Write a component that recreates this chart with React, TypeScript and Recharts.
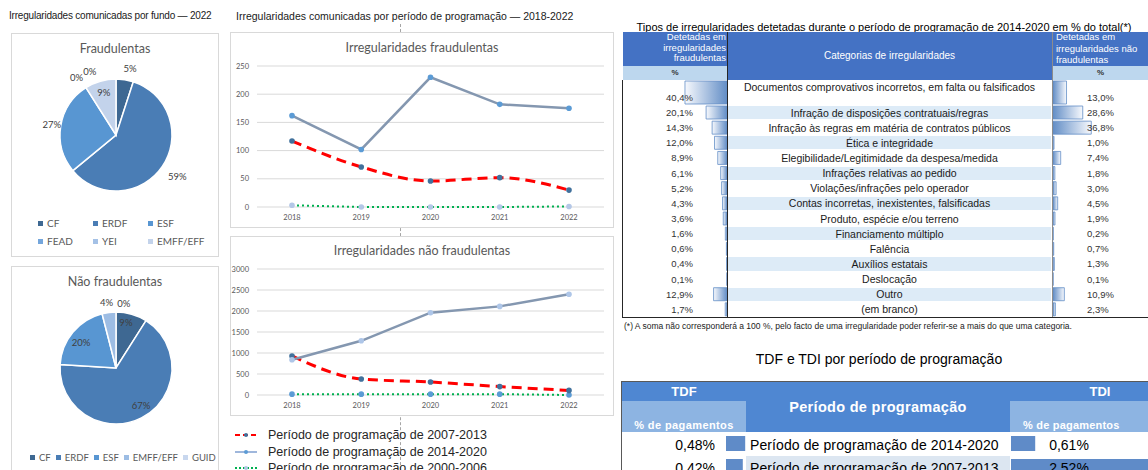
import React from 'react';
import { PieChart, Pie, Cell, LineChart, Line, XAxis, YAxis, CartesianGrid, BarChart, Bar } from 'recharts';

const ARIAL = '"Liberation Sans", Arial, sans-serif';
const CALIBRI = 'Lato, "Open Sans", sans-serif';

// --- pies: irregularidades por fundo (2022), %
const fraudFunds = ['CF', 'ERDF', 'ESF', 'FEAD', 'YEI', 'EMFF/EFF'];
const fraudFundShares = [5, 59, 27, 0, 0, 9];
const nonFraudFunds = ['CF', 'ERDF', 'ESF', 'EMFF/EFF', 'GUID'];
const nonFraudFundShares = [9, 67, 20, 4, 0];

// --- lines: irregularidades por período de programação
const years = ['2018', '2019', '2020', '2021', '2022'];
const fraud0713 = [117, 71, 46, 52, 30];
const fraud1420 = [162, 102, 230, 182, 175];
const fraud0006 = [3, 0, 0, 0, 1];
const nonFraud0713 = [930, 380, 310, 200, 110];
const nonFraud1420 = [840, 1290, 1960, 2110, 2400];
const nonFraud0006 = [20, 20, 20, 20, 0];
const fraudTicks = [0, 50, 100, 150, 200, 250];
const nonFraudTicks = [0, 500, 1000, 1500, 2000, 2500, 3000];
const periodNames = [
  'Período de programação de 2007-2013',
  'Período de programação de 2014-2020',
  'Período de programação de 2000-2006',
];

// --- tabela: tipos de irregularidades 2014-2020, % do total
const categories = [
  'Documentos comprovativos incorretos, em falta ou falsificados',
  'Infração de disposições contratuais/regras',
  'Infração às regras em matéria de contratos públicos',
  'Ética e integridade',
  'Elegibilidade/Legitimidade da despesa/medida',
  'Infrações relativas ao pedido',
  'Violações/infrações pelo operador',
  'Contas incorretas, inexistentes, falsificadas',
  'Produto, espécie e/ou terreno',
  'Financiamento múltiplo',
  'Falência',
  'Auxílios estatais',
  'Deslocação',
  'Outro',
  '(em branco)',
];
const fraudShares = [40.4, 20.1, 14.3, 12.0, 8.9, 6.1, 5.2, 4.3, 3.6, 1.6, 0.6, 0.4, 0.1, 12.9, 1.7];
const nonFraudShares = [13.0, 28.6, 36.8, 1.0, 7.4, 1.8, 3.0, 4.5, 1.9, 0.2, 0.7, 1.3, 0.1, 10.9, 2.3];

// --- TDF / TDI
const periods = ['Período de programação de 2014-2020', 'Período de programação de 2007-2013'];
const tdfValues = [0.48, 0.42];
const tdiValues = [0.61, 2.52];

const pct = (v: number, d = 1) => v.toFixed(d).replace('.', ',') + '%';

const pieColors1 = ['#3e6892', '#4a7db5', '#5896d2', '#74a6dc', '#a4c1e6', '#c3d3eb'];
const pieColors2 = ['#3e6892', '#4a7db5', '#5896d2', '#9dbde4', '#c8d7ee'];

const labelMaker = (radii: number[], nudges: number[]) => (p: any) => {
  const t = ((90 - p.midAngle + nudges[p.index]) * Math.PI) / 180;
  const x = p.cx + radii[p.index] * Math.sin(t);
  const y = p.cy - radii[p.index] * Math.cos(t);
  return (
    <text x={x} y={y} textAnchor="middle" dominantBaseline="central" fontSize={9.5} fontFamily={CALIBRI} fill="#404040">
      {Math.round(p.value)}%
    </text>
  );
};

function LegendItem({ color, name }: { color: string; name: string }) {
  return (
    <span style={{ display: 'inline-flex', alignItems: 'center', whiteSpace: 'nowrap' }}>
      <span style={{ width: 5, height: 5, background: color, marginRight: 4, display: 'inline-block' }} />
      {name}
    </span>
  );
}

function FundPie(props: {
  title: string; top: number; height: number; names: string[]; values: number[]; colors: string[];
  radii: number[]; nudges: number[]; legend: React.ReactNode;
}) {
  const data = props.names.map((n, i) => ({ name: n, value: props.values[i] }));
  return (
    <div style={{ position: 'absolute', left: 11, top: props.top, width: 208, height: props.height, border: '1px solid #d9d9d9', boxSizing: 'border-box', background: '#fff' }}>
      <div style={{ position: 'absolute', left: 0, width: 206, top: 7, textAlign: 'center', fontFamily: CALIBRI, fontSize: 12.5, color: '#595959' }}>{props.title}</div>
      <div style={{ position: 'absolute', left: 0, top: 0 }}>
        <PieChart width={206} height={200} margin={{ top: 0, right: 0, bottom: 0, left: 0 }}>
          <Pie
            data={data}
            dataKey="value"
            cx={104}
            cy={101}
            outerRadius={56}
            startAngle={90}
            endAngle={-270}
            stroke="#fff"
            strokeWidth={1.5}
            labelLine={false}
            label={labelMaker(props.radii, props.nudges)}
            isAnimationActive={false}
          >
            {data.map((d, i) => <Cell key={d.name} fill={props.colors[i]} />)}
          </Pie>
        </PieChart>
      </div>
      {props.legend}
    </div>
  );
}

function TrendChart(props: {
  title: string; top: number; height: number; marginTop: number; titleTop: number;
  a: number[]; b: number[]; c: number[]; ticks: number[]; dotB: string; dotC: string;
}) {
  const data = years.map((y, i) => ({ year: y, a: props.a[i], b: props.b[i], c: props.c[i] }));
  const tick = { fontSize: 7.5, fill: '#595959', fontFamily: CALIBRI };
  const top = props.ticks[props.ticks.length - 1];
  return (
    <div style={{ position: 'absolute', left: 230, top: props.top, width: 384, height: props.height, border: '1px solid #d9d9d9', boxSizing: 'border-box', background: '#fff' }}>
      <div style={{ position: 'absolute', left: 0, width: 382, top: props.titleTop, textAlign: 'center', fontFamily: CALIBRI, fontSize: 12.5, color: '#595959' }}>{props.title}</div>
      <div style={{ position: 'absolute', left: 0, top: 0 }}>
        <LineChart width={382} height={props.height - 2} data={data} margin={{ top: props.marginTop, right: 9, bottom: 0, left: 0 }}>
          <CartesianGrid vertical={false} stroke="#d9d9d9" />
          <XAxis dataKey="year" height={20} axisLine={false} tickLine={false} interval={0} padding={{ left: 35, right: 35 }} tick={tick} />
          <YAxis width={26} domain={[0, top]} ticks={props.ticks} interval={0} axisLine={false} tickLine={false} tick={tick} />
          <Line dataKey="c" type="linear" stroke="#00b050" strokeWidth={2} strokeDasharray="2 3" dot={{ r: 2.8, fill: props.dotC, stroke: 'none' }} isAnimationActive={false} />
          <Line dataKey="a" type="monotone" stroke="#ff0000" strokeWidth={3} strokeDasharray="10 6" dot={{ r: 2.8, fill: '#41719c', stroke: 'none' }} isAnimationActive={false} />
          <Line dataKey="b" type="linear" stroke="#8497b0" strokeWidth={2.5} dot={{ r: 2.8, fill: props.dotB, stroke: 'none' }} isAnimationActive={false} />
        </LineChart>
      </div>
    </div>
  );
}

function ShareBars(props: { values: number[]; left: number; top: number; height: number; reversed: boolean; id: string }) {
  const data = props.values.map((v, i) => ({ k: i, v }));
  return (
    <div style={{ position: 'absolute', left: props.left, top: props.top }}>
      <BarChart layout="vertical" width={104} height={props.height} data={data} margin={{ top: 0, right: 0, bottom: 0, left: 0 }} barCategoryGap={1}>
        <defs>
          <linearGradient id={props.id} x1="0" y1="0" x2="1" y2="0">
            <stop offset="0%" stopColor={props.reversed ? '#f7f9fd' : '#638ec6'} />
            <stop offset="100%" stopColor={props.reversed ? '#638ec6' : '#f7f9fd'} />
          </linearGradient>
        </defs>
        <XAxis type="number" domain={[0, 100]} reversed={props.reversed} hide />
        <YAxis type="category" dataKey="k" hide />
        <Bar dataKey="v" fill={`url(#${props.id})`} stroke="#638ec6" strokeWidth={0.8} isAnimationActive={false} />
      </BarChart>
    </div>
  );
}

function RateBars(props: { values: number[]; left: number; width: number; domain: [number, number] }) {
  const data = props.values.map((v, i) => ({ k: i, v }));
  return (
    <div style={{ position: 'absolute', left: props.left, top: 432 }}>
      <BarChart layout="vertical" width={props.width} height={46} data={data} margin={{ top: 0, right: 0, bottom: 0, left: 0 }} barCategoryGap={4}>
        <XAxis type="number" domain={props.domain} allowDataOverflow hide />
        <YAxis type="category" dataKey="k" hide />
        <Bar dataKey="v" fill="#5f8bc8" isAnimationActive={false} />
      </BarChart>
    </div>
  );
}

const ROW_H = 15.14;
const rowTop = (i: number) => (i === 0 ? 80 : 105 + (i - 1) * ROW_H);
const rowH = (i: number) => (i === 0 ? 25 : ROW_H);

function abs(left: number, top: number, extra: React.CSSProperties = {}): React.CSSProperties {
  return { position: 'absolute', left, top, ...extra };
}

export default function App() {
  const tableFont: React.CSSProperties = { fontFamily: ARIAL, fontSize: 10.5, color: '#1a1a1a', whiteSpace: 'nowrap' };
  return (
    <div style={{ position: 'absolute', left: 0, top: 0, width: 1148, height: 470, overflow: 'hidden', background: '#fff' }}>
      {/* dashed guide */}
      <div style={abs(400, 24, { height: 446, borderLeft: '1px dashed #a6a6a6' })} />

      {/* left column: pies */}
      <div style={abs(9, 10, { fontFamily: ARIAL, fontSize: 10, color: '#1a1a1a', whiteSpace: 'nowrap', letterSpacing: -0.2 })}>
        Irregularidades comunicadas por fundo — 2022
      </div>
      <FundPie
        title="Fraudulentas"
        top={33}
        height={224}
        names={fraudFunds}
        values={fraudFundShares}
        colors={pieColors1}
        radii={[68, 74, 65, 70, 69, 44]}
        nudges={[3, 0, 0, -2, 10, 0]}
        legend={
          <div style={{ position: 'absolute', left: 26, top: 183, display: 'grid', gridTemplateColumns: '55px 55px 70px', rowGap: 6, fontFamily: CALIBRI, fontSize: 10, color: '#595959' }}>
            {fraudFunds.map((n, i) => <LegendItem key={n} name={n} color={pieColors1[i]} />)}
          </div>
        }
      />
      <FundPie
        title="Não fraudulentas"
        top={266}
        height={210}
        names={nonFraudFunds}
        values={nonFraudFundShares}
        colors={pieColors2}
        radii={[47, 45, 43, 66, 65]}
        nudges={[-4, -7, -4, -1, 7]}
        legend={
          <div style={{ position: 'absolute', left: 18, top: 185, display: 'flex', gap: 5, fontFamily: CALIBRI, fontSize: 9.5, color: '#595959' }}>
            {nonFraudFunds.map((n, i) => <LegendItem key={n} name={n} color={pieColors2[i]} />)}
          </div>
        }
      />

      {/* middle column: lines */}
      <div style={abs(236, 10, { fontFamily: ARIAL, fontSize: 10.5, color: '#1a1a1a', whiteSpace: 'nowrap' })}>
        Irregularidades comunicadas por período de programação — 2018-2022
      </div>
      <TrendChart title="Irregularidades fraudulentas" top={32} height={196} marginTop={33} titleTop={7}
        a={fraud0713} b={fraud1420} c={fraud0006} ticks={fraudTicks} dotB="#5b9bd5" dotC="#b4c7e7" />
      <TrendChart title="Irregularidades não fraudulentas" top={236} height={180} marginTop={32} titleTop={6}
        a={nonFraud0713} b={nonFraud1420} c={nonFraud0006} ticks={nonFraudTicks} dotB="#aec6e8" dotC="#5b9bd5" />
      {periodNames.map((n, i) => (
        <div key={n} style={abs(235, 428 + i * 16.5, { display: 'flex', alignItems: 'center', fontFamily: ARIAL, fontSize: 12.5, color: '#262626', whiteSpace: 'nowrap' })}>
          <svg width={22} height={8} style={{ marginRight: 11 }}>
            {i === 0 && <line x1={0} y1={4} x2={22} y2={4} stroke="#ff0000" strokeWidth={2} strokeDasharray="5 3" />}
            {i === 1 && <line x1={0} y1={4} x2={22} y2={4} stroke="#7f9fd0" strokeWidth={1.5} />}
            {i === 2 && <line x1={0} y1={4} x2={22} y2={4} stroke="#00b050" strokeWidth={2} strokeDasharray="2 2" />}
            <circle cx={11} cy={4} r={2} fill={i === 0 ? '#41719c' : i === 1 ? '#5b9bd5' : '#b4c7e7'} />
          </svg>
          {n}
        </div>
      ))}

      {/* right: table of categories */}
      <div style={abs(620, 21, { width: 528, textAlign: 'center', fontFamily: ARIAL, fontSize: 11, color: '#000', whiteSpace: 'nowrap' })}>
        Tipos de irregularidades detetadas durante o período de programação de 2014-2020 em % do total(*)
      </div>
      <div style={abs(623, 32, { width: 525, height: 48, background: '#4472c4' })} />
      <div style={abs(623, 66, { width: 104, height: 14, background: '#bdd7ee' })} />
      <div style={abs(1053, 66, { width: 95, height: 14, background: '#bdd7ee' })} />
      <div style={abs(623, 32, { width: 103, textAlign: 'right', fontFamily: ARIAL, fontSize: 9.5, lineHeight: '10.5px', color: '#fff' })}>
        Detetadas em<br />irregularidades<br />fraudulentas
      </div>
      <div style={abs(1056, 31, { fontFamily: ARIAL, fontSize: 9.5, lineHeight: '11.5px', color: '#fff', whiteSpace: 'nowrap' })}>
        Detetadas em<br />irregularidades não<br />fraudulentas
      </div>
      <div style={abs(623, 66, { width: 104, textAlign: 'center', fontFamily: ARIAL, fontSize: 8, fontWeight: 700, lineHeight: '14px', color: '#333' })}>%</div>
      <div style={abs(1053, 66, { width: 95, textAlign: 'center', fontFamily: ARIAL, fontSize: 8, fontWeight: 700, lineHeight: '14px', color: '#333' })}>%</div>
      <div style={abs(728, 50, { width: 323, textAlign: 'center', fontFamily: ARIAL, fontSize: 10, lineHeight: '12px', color: '#fff' })}>
        Categorias de irregularidades
      </div>
      {categories.map((c, i) =>
        i % 2 === 1 ? <div key={'band' + c} style={abs(728, rowTop(i) + 1, { width: 323, height: rowH(i) - 2, background: '#ddebf7' })} /> : null
      )}
      <ShareBars values={fraudShares.slice(0, 1)} left={623} top={80} height={25} reversed id="gl0" />
      <ShareBars values={fraudShares.slice(1)} left={623} top={105} height={212} reversed id="gl1" />
      <ShareBars values={nonFraudShares.slice(0, 1)} left={1053} top={80} height={25} reversed={false} id="gr0" />
      <ShareBars values={nonFraudShares.slice(1)} left={1053} top={105} height={212} reversed={false} id="gr1" />
      {categories.map((c, i) => {
        const y = i === 0 ? 87 : rowTop(i) + rowH(i) / 2;
        const vy = i === 0 ? 98 : y + 0.5;
        return (
          <React.Fragment key={c}>
            <div style={abs(728, y - 7, { ...tableFont, width: 323, textAlign: 'center', lineHeight: '14px' })}>{c}</div>
            <div style={abs(623, vy - 6, { ...tableFont, fontSize: 9.5, width: 70, textAlign: 'right', lineHeight: '12px', color: '#333' })}>{pct(fraudShares[i])}</div>
            <div style={abs(1087, vy - 6, { ...tableFont, fontSize: 9.5, lineHeight: '12px', color: '#333' })}>{pct(nonFraudShares[i])}</div>
          </React.Fragment>
        );
      })}
      <div style={abs(727, 32, { width: 1, height: 285, background: '#262626' })} />
      <div style={abs(1052, 32, { width: 1, height: 285, background: '#8c8c8c' })} />
      <div style={abs(622, 80, { width: 1, height: 238, background: '#262626' })} />
      <div style={abs(622, 317, { width: 526, height: 1, background: '#262626' })} />
      <div style={abs(624, 321, { fontFamily: ARIAL, fontSize: 8.5, color: '#1a1a1a', whiteSpace: 'nowrap' })}>
        (*) A soma não corresponderá a 100 %, pelo facto de uma irregularidade poder referir-se a mais do que uma categoria.
      </div>

      {/* right: TDF / TDI */}
      <div style={abs(620, 351, { width: 518, textAlign: 'center', fontFamily: ARIAL, fontSize: 14, color: '#000', whiteSpace: 'nowrap' })}>
        TDF e TDI por período de programação
      </div>
      <div style={abs(621, 381, { width: 527, height: 51, background: '#4f87d2', borderTop: '1px solid #595959', borderLeft: '1px solid #595959', boxSizing: 'border-box' })} />
      <div style={abs(622, 401, { width: 124, height: 31, background: '#8db4e2' })} />
      <div style={abs(1010, 401, { width: 138, height: 31, background: '#8db4e2' })} />
      <div style={abs(621, 432, { width: 1, height: 40, background: '#595959' })} />
      <div style={abs(622, 384, { width: 124, textAlign: 'center', fontFamily: ARIAL, fontSize: 13, fontWeight: 700, color: '#fff' })}>TDF</div>
      <div style={abs(1010, 384, { width: 180, textAlign: 'center', fontFamily: ARIAL, fontSize: 13, fontWeight: 700, color: '#fff' })}>TDI</div>
      <div style={abs(622, 419, { width: 124, textAlign: 'center', fontFamily: ARIAL, fontSize: 11, fontWeight: 700, color: '#fff', letterSpacing: 0.4, whiteSpace: 'nowrap' })}>% de pagamentos</div>
      <div style={abs(1023, 419, { fontFamily: ARIAL, fontSize: 11, fontWeight: 700, color: '#fff', letterSpacing: 0.2, whiteSpace: 'nowrap' })}>% de pagamentos</div>
      <div style={abs(746, 399, { width: 264, textAlign: 'center', fontFamily: ARIAL, fontSize: 14.5, fontWeight: 700, color: '#fff', letterSpacing: 0.3, whiteSpace: 'nowrap' })}>Período de programação</div>
      <div style={abs(746, 456, { width: 264, height: 20, background: '#dce6f1' })} />
      <RateBars values={tdfValues} left={726} width={20} domain={[0, 0.5]} />
      <RateBars values={tdiValues} left={1011} width={137} domain={[0.2, 2.52]} />
      {periods.map((p, i) => (
        <React.Fragment key={p}>
          <div style={abs(622, 437 + i * 23, { width: 93, textAlign: 'right', fontFamily: ARIAL, fontSize: 14, color: '#000', lineHeight: '16px' })}>{pct(tdfValues[i], 2)}</div>
          <div style={abs(750, 437 + i * 23, { fontFamily: ARIAL, fontSize: 14, color: '#000', lineHeight: '16px', whiteSpace: 'nowrap', letterSpacing: 0.1 })}>{p}</div>
          <div style={abs(1030, 437 + i * 23, { width: 78, textAlign: 'center', fontFamily: ARIAL, fontSize: 14, color: '#000', lineHeight: '16px' })}>{pct(tdiValues[i], 2)}</div>
        </React.Fragment>
      ))}
    </div>
  );
}
